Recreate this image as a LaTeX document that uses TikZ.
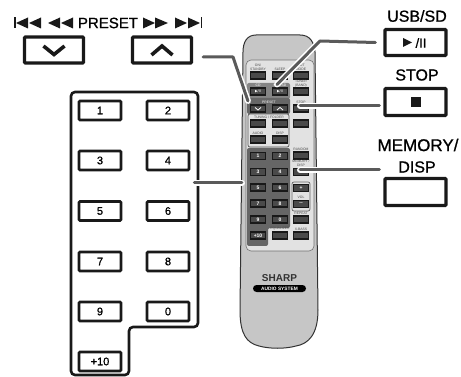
\documentclass[tikz,border=0pt]{standalone}
\usepackage{fontspec}
\setmainfont{Liberation Sans}
\newfontfamily\lab[FakeBold=0.9]{Liberation Sans}
\newfontfamily\lbf{Liberation Sans Bold}
\newfontfamily\sym{DejaVu Sans}
\definecolor{body}{HTML}{C6C6C6}
\definecolor{panel}{HTML}{E2E2E2}
\definecolor{dk}{HTML}{666666}
\definecolor{keyf}{HTML}{4A4A4A}
\definecolor{lead}{HTML}{5A5A5A}
\tikzset{
 x=1pt,y=-1pt,
 btn/.style={draw=black!90,rounded corners=1pt,fill=white,inner sep=0pt,font=\lab\fontsize{11}{12}\selectfont},
 numkey/.style={btn,line width=2.6pt,minimum width=42pt,minimum height=19pt},
 bigkey/.style={btn,line width=3.4pt,minimum width=59pt,minimum height=26pt},
 headlab/.style={inner sep=0pt,font=\lab\fontsize{16}{18}\selectfont},
 glyph/.style={line width=3.6pt,draw=black!90},
 rkey/.style={draw=black!90,line width=1.1pt,fill=keyf,inner sep=0pt,minimum width=15pt,minimum height=7pt,text=white,font=\lbf\fontsize{5}{5}\selectfont},
 tiny/.style={inner sep=0pt,text=black!70,font=\fontsize{3.4}{4}\selectfont},
 halo/.style={draw=white,line width=6pt,line cap=round,line join=round},
 leader/.style={draw=lead,line width=3pt,line cap=round,line join=round},
}
\begin{document}
\begin{tikzpicture}
\useasboundingbox (0,0) rectangle (461,377);
% remote body
\draw[fill=body,draw=black!80,line width=1pt]
 (256,35) -- (300,35) .. controls (310,35) and (314,42) .. (315,52)
 -- (318,310) .. controls (318,335) and (308,344) .. (296,346)
 .. controls (285,349) and (270,349) .. (259,346)
 .. controls (247,343) and (240,335) .. (240,310)
 -- (243,52) .. controls (243,42) and (247,35) .. (256,35) -- cycle;
\draw[fill=panel,draw=black!55,line width=.6pt,rounded corners=5pt] (246,60) rectangle (314,251);
% dark blocks
\fill[dk!80,rounded corners=2pt] (247,83) rectangle (290,99);
\fill[dk,rounded corners=2pt] (247,98) rectangle (290,114);
\draw[fill=panel,draw=black!65,line width=.7pt,rounded corners=2pt] (248,114) rectangle (289,147);
\fill[dk,rounded corners=2pt] (247,148) -- (290,148) -- (290,228) -- (268,228) -- (268,246) -- (247,246) -- cycle;
\draw[draw=black!60,line width=.7pt,rounded corners=2pt,fill=panel] (292,182) rectangle (310,211);
% remote keys
\node[rkey] (ra1) at (258,75.5) {};
\node[rkey] (ra2) at (280,75.5) {};
\node[rkey] (ra3) at (301,75.5) {};
\node[rkey] (rb1) at (258,91.5) {\sym\fontsize{3.5}{4}\selectfont ▶/II};
\node[rkey] (rb2) at (280,91.5) {\sym\fontsize{3.5}{4}\selectfont ▶/II};
\node[rkey] (rb3) at (301,91.5) {};
\node[rkey] (rc1) at (258,108.5) {};
\node[rkey] (rc2) at (280,108.5) {};
\node[rkey] (rstop) at (301,108.5) {};
\node[rkey] (rd1) at (258,123.5) {};
\node[rkey] (rd2) at (280,123.5) {};
\node[rkey] (rd3) at (301,123.5) {};
\node[rkey] (re1) at (258,139.5) {};
\node[rkey] (re2) at (280,139.5) {};
\node[rkey] (rrand) at (301,155.5) {};
\node[rkey] (rmem) at (301,172) {};
\node[rkey] (rplus) at (301,188) {+};
\node[rkey] (rminus) at (301,204) {--};
\node[rkey] (rrep) at (301,219.5) {};
\node[rkey] (rk1) at (258,156) {1};
\node[rkey] (rk2) at (280,156) {2};
\node[rkey] (rk3) at (258,172) {3};
\node[rkey] (rk4) at (280,172) {4};
\node[rkey] (rk5) at (258,187.5) {5};
\node[rkey] (rk6) at (280,187.5) {6};
\node[rkey] (rk7) at (258,203.5) {7};
\node[rkey] (rk8) at (280,203.5) {8};
\node[rkey] (rk9) at (258,219.5) {9};
\node[rkey] (rk0) at (280,219.5) {0};
\node[rkey] (rk10) at (258,235.5) {+10};
\node[rkey] (req) at (280,235.5) {};
\node[rkey] (rbass) at (301,235.5) {};
% remote glyphs
\draw[white,line width=.8pt] (255,107.5) -- (258,110) -- (261,107.5);
\draw[white,line width=.8pt] (277,110) -- (280,107.5) -- (283,110);
% tiny labels
\node[tiny,align=center] (t1) at (258,67) {ON/\\STANDBY};
\node[tiny] (t2) at (280,69) {SLEEP};
\node[tiny,align=center] (t3) at (301,67) {OUT\\MODE};
\node[tiny,text=white] (t4) at (258,85.5) {CD};
\node[tiny,text=white] (t5) at (280,85.5) {USB/SD};
\node[tiny,align=center] (t6) at (301,84) {TUNER\\(BAND)};
\node[tiny,text=white] (t7) at (269,102) {PRESET};
\node[tiny] (t8) at (301,102) {STOP};
\node[tiny] (t9) at (269,117) {TUNING / FOLDER};
\node[tiny] (t10) at (258,133) {AUDIO};
\node[tiny] (t11) at (280,133) {DISP};
\node[tiny] (t12) at (301,149) {RANDOM};
\node[tiny,align=center] (t13) at (301,163) {MEMORY /\\DISP};
\node[tiny] (t14) at (301,197) {VOL};
\node[tiny] (t15) at (301,213) {REPEAT};
\node[tiny] (t16) at (280,229) {EQUALIZER};
\node[tiny] (t17) at (301,229) {X-BASS};
% logo
\node[inner sep=0pt,text=black!80,font=\lbf\fontsize{10}{11}\selectfont] (sharp) at (279.5,278) {SHARP};
\node[draw=none,fill=black,rounded corners=3.5pt,minimum width=53pt,minimum height=7pt,inner sep=0pt,text=white,font=\lbf\fontsize{4.8}{5}\selectfont] (audio) at (279.5,288.5) {AUDIO SYSTEM};
% preset
\node[bigkey] (dn) at (54,50) {};
\node[bigkey] (up) at (162,50) {};
\draw[glyph] (43.5,46) -- (54,54.5) -- (64.5,46);
\draw[glyph] (151.5,55) -- (162,46) -- (172.5,55);
\node[headlab,font=\lab\fontsize{15}{16}\selectfont] (preset) at (108,23) {PRESET};
\fill[black!90] (14,17.5) rectangle (15.5,28.5);
\fill[black!90] (16,23) -- (28,17.5) -- (28,28.5) -- cycle (29,23) -- (41,17.5) -- (41,28.5) -- cycle;
\fill[black!90] (48,23) -- (60,17.5) -- (60,28.5) -- cycle (61,23) -- (73,17.5) -- (73,28.5) -- cycle;
\fill[black!90] (143,17.5) -- (155,23) -- (143,28.5) -- cycle (155,17.5) -- (168,23) -- (155,28.5) -- cycle;
\fill[black!90] (175,17.5) -- (187,23) -- (175,28.5) -- cycle (188,17.5) -- (200,23) -- (188,28.5) -- cycle;
\fill[black!90] (200.5,17.5) rectangle (202,28.5);
% keypad frame
\draw[black!90,line width=2.6pt,rounded corners=4pt] (71,92) -- (198,92) -- (198,327) -- (129,327) -- (129,375) -- (71,375) -- cycle;
\node[numkey] (n1) at (100,110.5) {1};
\node[numkey] (n2) at (168,110.5) {2};
\node[numkey] (n3) at (100,160.5) {3};
\node[numkey] (n4) at (168,160.5) {4};
\node[numkey] (n5) at (100,211) {5};
\node[numkey] (n6) at (168,211) {6};
\node[numkey] (n7) at (100,261.5) {7};
\node[numkey] (n8) at (168,261.5) {8};
\node[numkey] (n9) at (100,311.5) {9};
\node[numkey] (n0) at (168,311.5) {0};
\node[numkey] (n10) at (100,361.5) {+10};
% right column
\node[headlab] (lusb) at (417,16) {USB/SD};
\node[bigkey,minimum width=61pt] (usb) at (415.5,42.5) {};
\node[headlab] (lstop) at (417,75) {STOP};
\node[bigkey,minimum width=61pt,minimum height=27pt] (stop) at (415.5,102) {};
\node[headlab,font=\lab\fontsize{17}{18}\selectfont] (lmem) at (418,145) {MEMORY/};
\node[headlab] (ldisp) at (417,167) {DISP};
\node[bigkey,minimum width=61pt,minimum height=27pt] (mem) at (415.5,192) {};
\fill[black!90] (403,38) -- (412,42.5) -- (403,47) -- cycle;
\node[inner sep=0pt,font=\lab\fontsize{13}{14}\selectfont] (pp) at (421,43) {/II};
\fill[black!90] (411,97) rectangle (421,107);
% leaders
\foreach \s in {halo,leader}{
 \draw[\s] ([shift={(10,7)}]up.east) -- (233,57) -- ([shift={(-2,-3.5)}]rc1.north west);
 \draw[\s] ([shift={(-8,0)}]usb.west) -- (320,41) -- ([shift={(-3,-3)}]rb2.north);
 \draw[\s] ([shift={(-4,4)}]stop.west) -- ([shift={(-1,-2.5)}]rstop.center);
 \draw[\s] ([shift={(-4,-22)}]mem.west) -- ([shift={(-1,-2)}]rmem.center);
 \draw[\s] ([shift={(4,-28)}]n6.east) -- ([shift={(-8,-4.5)}]rk5.west);
}
\end{tikzpicture}
\end{document}
